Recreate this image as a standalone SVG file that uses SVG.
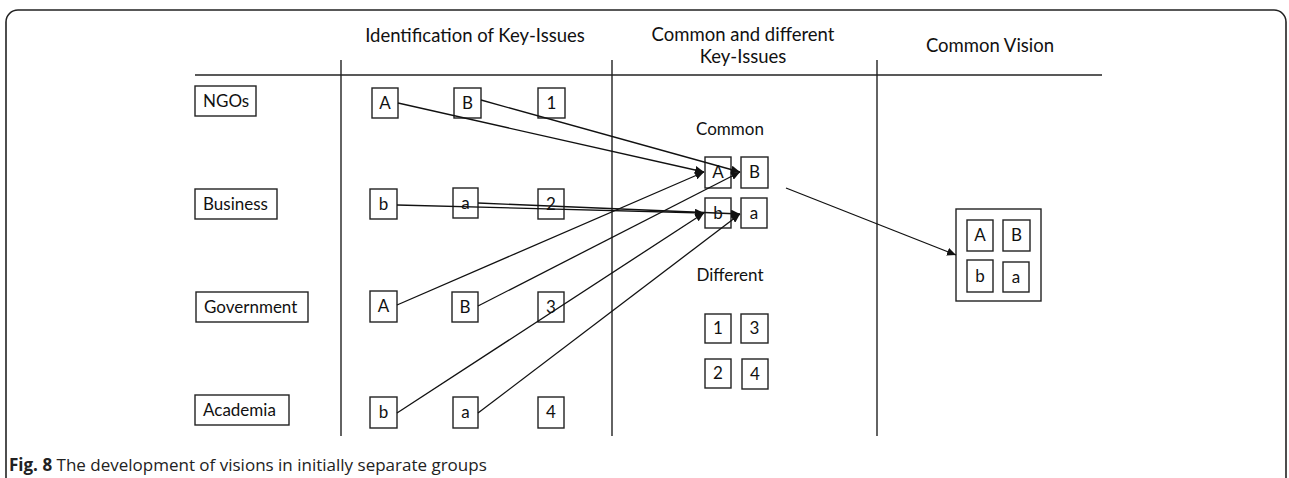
<svg xmlns="http://www.w3.org/2000/svg" width="1289" height="478" viewBox="0 0 1289 478">
<style>
.frame{fill:none;stroke:#222;stroke-width:1.6}
.rule{stroke:#222;stroke-width:1.4;fill:none}
.box{fill:#fff;stroke:#222;stroke-width:1.4}
.t{font-family:Lato,"Open Sans",sans-serif;font-size:17px;fill:#111}
.hd{font-family:Lato,"Open Sans",sans-serif;font-size:18.5px;fill:#111;text-anchor:middle}
.c{text-anchor:middle}
.con{stroke:#111;stroke-width:1.3;fill:none}
.cap{font-family:"Open Sans",Lato,sans-serif;font-size:17px;fill:#222}
</style>
<defs>
<marker id="arr" markerUnits="userSpaceOnUse" markerWidth="9" markerHeight="8" refX="9" refY="4" orient="auto">
<path d="M0,0 L9,4 L0,8 z" fill="#111"/>
</marker>
</defs>
<rect width="1289" height="478" fill="#fff"/>
<rect class="frame" x="6" y="10" width="1280" height="490" rx="12"/>

<g id="headers">
<text class="hd" x="475" y="42">Identification of Key-Issues</text>
<text class="hd" x="743" y="41">Common and different</text>
<text class="hd" x="743" y="63">Key-Issues</text>
<text class="hd" x="990" y="52">Common Vision</text>
</g>

<g id="grid">
<line class="rule" x1="195" y1="75" x2="1102" y2="75"/>
<line class="rule" x1="341" y1="60" x2="341" y2="436"/>
<line class="rule" x1="612" y1="60" x2="612" y2="436"/>
<line class="rule" x1="877" y1="60" x2="877" y2="436"/>
</g>

<g id="groups">
<g id="ngos"><rect class="box" x="195" y="86" width="61" height="30"/><text class="t" x="203" y="107">NGOs</text></g>
<g id="business"><rect class="box" x="195" y="189" width="82" height="30"/><text class="t" x="203" y="210">Business</text></g>
<g id="government"><rect class="box" x="196" y="292" width="112" height="30"/><text class="t" x="204" y="313">Government</text></g>
<g id="academia"><rect class="box" x="195" y="395" width="94" height="30"/><text class="t" x="203" y="416">Academia</text></g>
</g>

<g id="issues">
<g id="ngo-A"><rect class="box" x="372" y="88" width="26" height="30"/><text class="t c" x="385" y="109">A</text></g>
<g id="ngo-B"><rect class="box" x="454" y="88" width="27" height="30"/><text class="t c" x="467.5" y="109">B</text></g>
<g id="ngo-1"><rect class="box" x="538" y="88" width="27" height="30"/><text class="t c" x="551.5" y="109">1</text></g>

<g id="bus-b"><rect class="box" x="370" y="189" width="27" height="30"/><text class="t c" x="383.5" y="210">b</text></g>
<g id="bus-a"><rect class="box" x="453" y="188" width="25" height="30"/><text class="t c" x="465.5" y="209">a</text></g>
<g id="bus-2"><rect class="box" x="538" y="189" width="26" height="30"/><text class="t c" x="551" y="210">2</text></g>

<g id="gov-A"><rect class="box" x="370" y="291" width="27" height="31"/><text class="t c" x="383.5" y="312">A</text></g>
<g id="gov-B"><rect class="box" x="452" y="292" width="26" height="30"/><text class="t c" x="465" y="313">B</text></g>
<g id="gov-3"><rect class="box" x="538" y="292" width="26" height="30"/><text class="t c" x="551" y="313">3</text></g>

<g id="aca-b"><rect class="box" x="370" y="397" width="27" height="31"/><text class="t c" x="383.5" y="418">b</text></g>
<g id="aca-a"><rect class="box" x="453" y="397" width="25" height="31"/><text class="t c" x="465.5" y="418">a</text></g>
<g id="aca-4"><rect class="box" x="538" y="397" width="26" height="31"/><text class="t c" x="551" y="418">4</text></g>
</g>

<g id="common">
<text class="t c" x="730" y="135">Common</text>
<g id="com-A"><rect class="box" x="705" y="157" width="26" height="31"/><text class="t c" x="718" y="178">A</text></g>
<g id="com-B"><rect class="box" x="741" y="157" width="27" height="31"/><text class="t c" x="754.5" y="178">B</text></g>
<g id="com-b"><rect class="box" x="705" y="198" width="26" height="30"/><text class="t c" x="718" y="219">b</text></g>
<g id="com-a"><rect class="box" x="741" y="198" width="26" height="30"/><text class="t c" x="754" y="219">a</text></g>
</g>

<g id="different">
<text class="t c" x="730" y="281">Different</text>
<g id="dif-1"><rect class="box" x="705" y="314" width="26" height="29"/><text class="t c" x="718" y="334">1</text></g>
<g id="dif-3"><rect class="box" x="741" y="314" width="27" height="29"/><text class="t c" x="754.5" y="334">3</text></g>
<g id="dif-2"><rect class="box" x="705" y="359" width="26" height="29"/><text class="t c" x="718" y="379">2</text></g>
<g id="dif-4"><rect class="box" x="742" y="359" width="26" height="30"/><text class="t c" x="755" y="380">4</text></g>
</g>

<g id="vision">
<rect class="box" x="956" y="209" width="85" height="92"/>
<g id="vis-A"><rect class="box" x="967" y="220" width="26" height="31"/><text class="t c" x="980" y="241">A</text></g>
<g id="vis-B"><rect class="box" x="1003" y="220" width="27" height="31"/><text class="t c" x="1016.5" y="241">B</text></g>
<g id="vis-b"><rect class="box" x="967" y="260" width="26" height="32"/><text class="t c" x="980" y="282">b</text></g>
<g id="vis-a"><rect class="box" x="1003" y="262" width="26" height="30"/><text class="t c" x="1016" y="283">a</text></g>
</g>

<g id="connectors">
<line class="con" x1="398" y1="103" x2="704" y2="172" marker-end="url(#arr)"/>
<line class="con" x1="481" y1="100" x2="740" y2="172" marker-end="url(#arr)"/>
<line class="con" x1="397" y1="205" x2="704" y2="213" marker-end="url(#arr)"/>
<line class="con" x1="478" y1="203" x2="740" y2="214" marker-end="url(#arr)"/>
<line class="con" x1="397" y1="305" x2="704" y2="172" marker-end="url(#arr)"/>
<line class="con" x1="478" y1="306" x2="740" y2="172" marker-end="url(#arr)"/>
<line class="con" x1="397" y1="413" x2="704" y2="213" marker-end="url(#arr)"/>
<line class="con" x1="478" y1="413" x2="740" y2="214" marker-end="url(#arr)"/>
<line class="con" x1="786" y1="188" x2="956" y2="255" marker-end="url(#arr)"/>
</g>

<text class="cap" x="9" y="471"><tspan font-weight="bold">Fig. 8</tspan> The development of visions in initially separate groups</text>
</svg>
